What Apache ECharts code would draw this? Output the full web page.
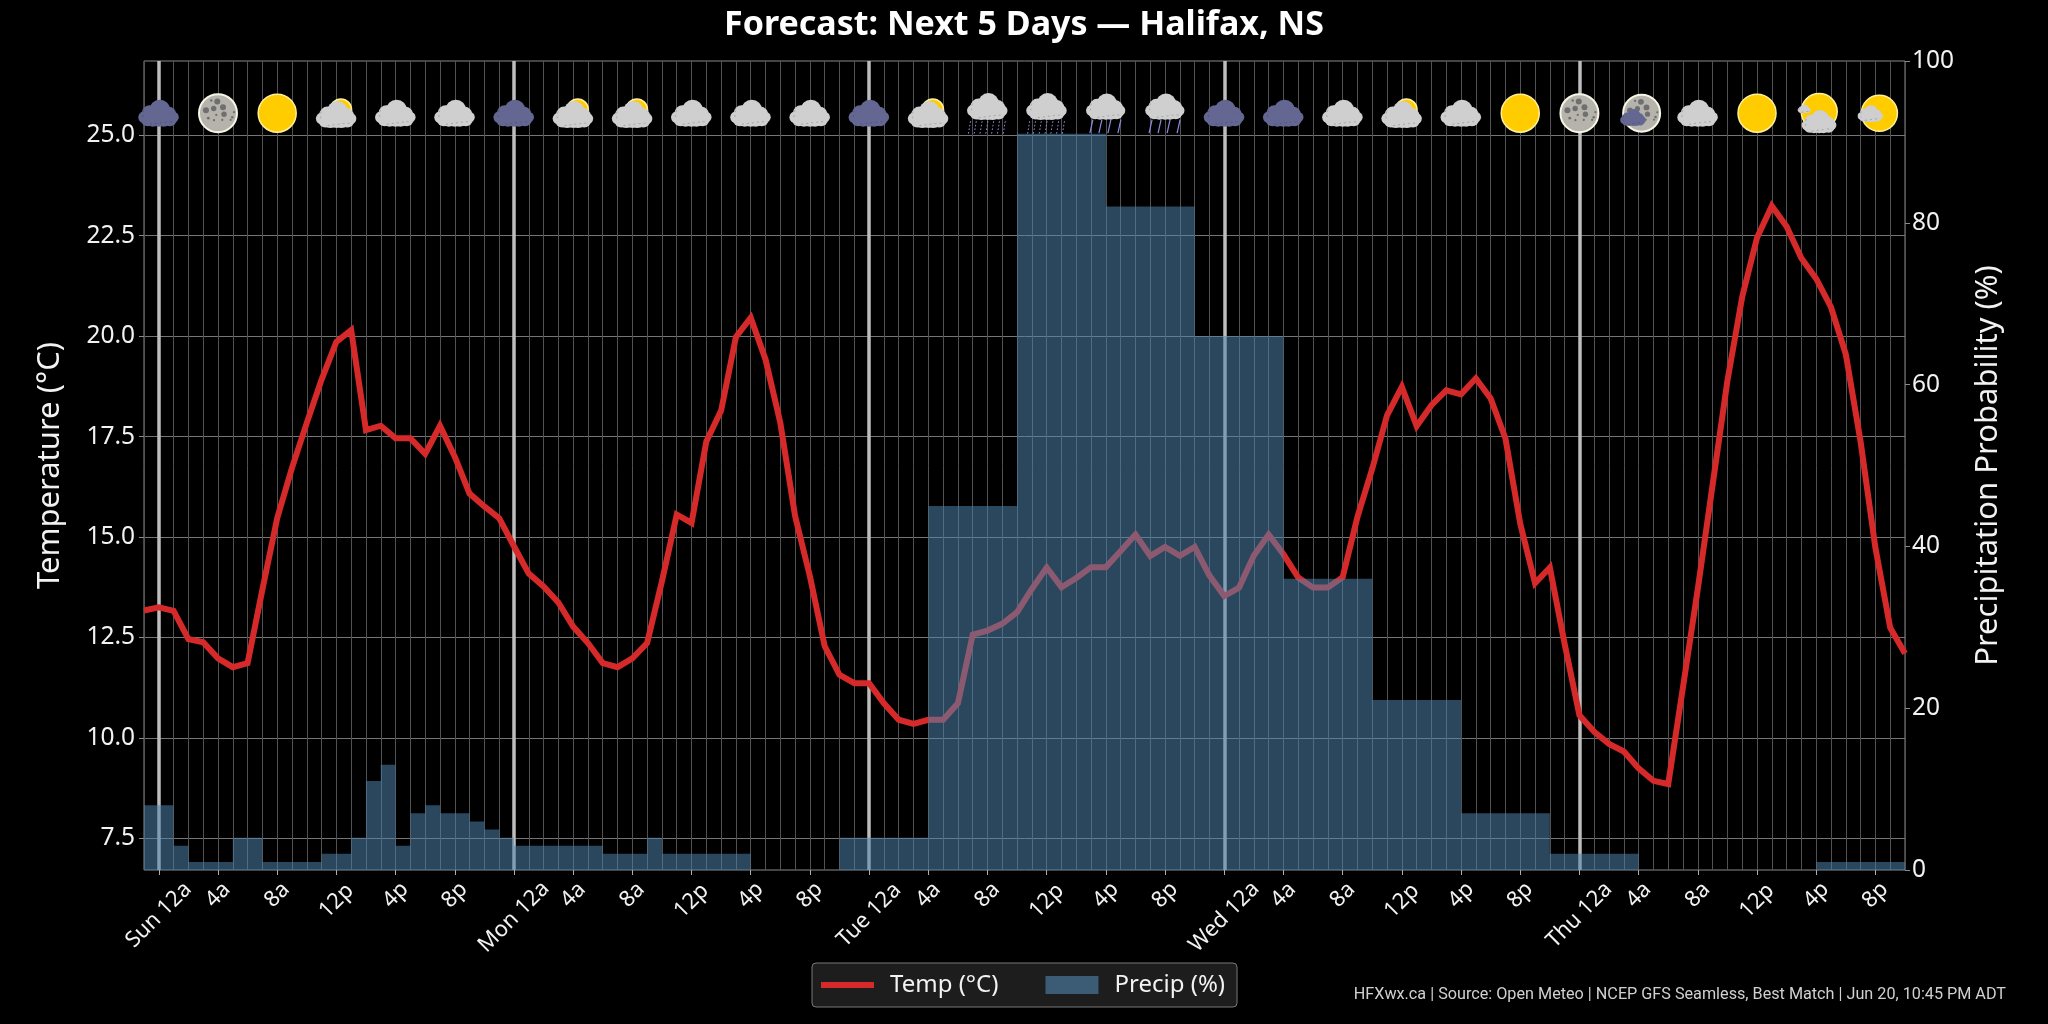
<!DOCTYPE html>
<html>
<head>
<meta charset="utf-8">
<style>html,body{margin:0;padding:0;background:#000}#chart{width:2048px;height:1024px}</style>
<script src="https://cdn.jsdelivr.net/npm/echarts@6/dist/echarts.min.js"></script>
</head>
<body>
<div id="chart"></div>
<script>
// Hourly series run from hour -1 (Sat 11 PM) to hour 118; hour 0 is Sunday midnight.
const firstHour = -1;
const tempC = [
  13.17, 13.25, 13.16, 12.46, 12.38, 11.98, 11.76, 11.86, 13.69, 15.47,
  16.72, 17.84, 18.92, 19.86, 20.15, 17.66, 17.77, 17.46, 17.46, 17.07,
  17.77, 17.00, 16.08, 15.76, 15.47, 14.77, 14.09, 13.77, 13.37, 12.77,
  12.36, 11.86, 11.76, 11.98, 12.36, 13.90, 15.56, 15.35, 17.38, 18.15,
  19.98, 20.46, 19.42, 17.84, 15.52, 14.02, 12.28, 11.57, 11.36, 11.36,
  10.86, 10.45, 10.35, 10.45, 10.45, 10.86, 12.57, 12.67, 12.84, 13.13,
  13.71, 14.24, 13.75, 13.98, 14.25, 14.25, 14.65, 15.06, 14.53, 14.75,
  14.53, 14.75, 14.04, 13.53, 13.74, 14.54, 15.06, 14.57, 13.99, 13.74,
  13.74, 14.00, 15.50, 16.70, 18.03, 18.74, 17.76, 18.28, 18.65, 18.55,
  18.95, 18.45, 17.45, 15.33, 13.85, 14.24, 12.34, 10.56, 10.15, 9.85,
  9.66, 9.24, 8.93, 8.85, 11.27, 13.71, 16.30, 18.89, 20.98, 22.45,
  23.24, 22.73, 21.94, 21.43, 20.72, 19.55, 17.37, 14.73, 12.74, 12.10
];
const precipPct = [
  8, 8, 3, 1, 1, 1, 4, 4, 1, 1,
  1, 1, 2, 2, 4, 11, 13, 3, 7, 8,
  7, 7, 6, 5, 4, 3, 3, 3, 3, 3,
  3, 2, 2, 2, 4, 2, 2, 2, 2, 2,
  2, 0, 0, 0, 0, 0, 0, 4, 4, 4,
  4, 4, 4, 45, 45, 45, 45, 45, 45, 91,
  91, 91, 91, 91, 91, 82, 82, 82, 82, 82,
  82, 66, 66, 66, 66, 66, 66, 36, 36, 36,
  36, 36, 36, 21, 21, 21, 21, 21, 21, 7,
  7, 7, 7, 7, 7, 2, 2, 2, 2, 2,
  2, 0, 0, 0, 0, 0, 0, 0, 0, 0,
  0, 0, 0, 1, 1, 1, 1, 1, 1, 1
];
const lastHour = firstHour + tempC.length - 1;

// Weather symbol shown every four hours, starting at Sunday midnight.
const iconStep = 4;
const iconKinds = [
  'nightCloud', 'moon', 'sun', 'partSun', 'cloud', 'cloud',
  'nightCloud', 'partSun', 'partSun', 'cloud', 'cloud', 'cloud',
  'nightCloud', 'partSun', 'drizzle', 'drizzle', 'rain', 'rain',
  'nightCloud', 'nightCloud', 'cloud', 'partSun', 'cloud', 'sun',
  'moon', 'moonCloud', 'cloud', 'sun', 'sunBigCloud', 'sunSmallCloud'
];

const dayHours = [0, 24, 48, 72, 96];
const dayNames = ['Sun', 'Mon', 'Tue', 'Wed', 'Thu'];
const clockNames = ['12a', '4a', '8a', '12p', '4p', '8p'];
const tempTicks = [7.5, 10, 12.5, 15, 17.5, 20, 22.5, 25];

function hourLabel(h) {
  const clock = clockNames[(h % 24) / 4];
  return h % 24 === 0 ? dayNames[h / 24] + ' ' + clock : clock;
}

// Rotated tick labels are centred on their ticks; the drop below the axis grows with text length.
const labelDrops = [
  { test: l => l.length === 2, margin: 25 },
  { test: l => l.length === 3, margin: 31 },
  { test: l => /^(Sun|Tue|Thu)/.test(l), margin: 45 },
  { test: l => /^(Mon|Wed)/.test(l), margin: 47 }
];
const labelHours = [];
for (let h = 0; h <= lastHour; h += iconStep) labelHours.push(h);

const textColor = '#f2f2f2';
const fontFamily = '"Noto Sans", sans-serif';
const axisGrey = '#8a8a8a';

const xRange = { type: 'value', min: firstHour, max: lastHour, position: 'bottom' };

const labelAxes = labelDrops.map(d => {
  const hours = labelHours.filter(h => d.test(hourLabel(h)));
  return Object.assign({}, xRange, {
    axisLine: { show: false, onZero: false },
    splitLine: { show: false },
    axisTick: { show: true, length: 5, customValues: hours, lineStyle: { color: '#b0b0b0', width: 1 } },
    axisLabel: {
      show: true, customValues: hours, rotate: 45, align: 'center', verticalAlign: 'middle',
      margin: d.margin, color: textColor, fontSize: 22, fontFamily,
      formatter: v => hourLabel(v)
    }
  });
});

const xAxes = [
  // Hourly grid lines
  Object.assign({}, xRange, {
    interval: 1,
    axisLine: { show: false, onZero: false }, axisTick: { show: false }, axisLabel: { show: false },
    splitLine: { show: true, lineStyle: { color: '#525252', width: 1 } }
  }),
  // Midnight markers
  Object.assign({}, xRange, {
    axisLine: { show: false, onZero: false },
    axisTick: { show: false, customValues: dayHours },
    axisLabel: { show: false, customValues: dayHours },
    splitLine: { show: true, showMinLine: true, lineStyle: { color: '#bdbdbd', width: 3.5 } }
  })
].concat(labelAxes);

// Weather symbols, drawn around a local origin with plain shapes.
const CLOUD_LIGHT = '#cfcfcf';
const CLOUD_NIGHT = '#646791';
const SUN_FILL = '#ffcc00';
const SUN_EDGE = '#fff09a';
const MOON_FILL = '#b5b3ac';
const MOON_EDGE = '#f6f6e6';
const CRATER = '#6f6f6f';
const RAIN_COLOR = '#8b8be0';
const ICON_ROW_TEMP = 25.55;

const cloudLobes = [
  [1, -3, 10.5], [-9, 0, 8], [10, 1, 7.5], [-14.5, 4, 6], [14.5, 4, 5.5],
  [-6, 5, 8.5], [5, 5, 8.5], [0, 4, 9.5], [-11, 6, 7], [11, 6, 7]
];
const craters = [
  [-0.7, -11.7, 3], [-6.7, -12.7, 1.2], [5, -6, 3], [-12, -3, 3], [-4.3, -4.7, 2.7],
  [6, 1, 2.7], [-1.7, 1.7, 1.1], [-9.7, 5, 1.4], [-4, 7, 1.1], [4.3, 6.7, 1.1],
  [14.3, 4, 1.3], [16, -1, 1.1], [12.7, 6.7, 1.1]
];

function disc(cx, cy, r, fill, stroke, lw) {
  return { type: 'circle', shape: { cx, cy, r }, style: { fill, stroke: stroke || null, lineWidth: lw || 0 } };
}
function cloud(cx, cy, s, fill) {
  const edge = fill === CLOUD_LIGHT ? '#9a9a9a' : '#4f5178';
  const parts = cloudLobes.map(l => disc(cx + l[0] * s, cy + l[1] * s, l[2] * s, fill));
  parts.push({
    type: 'path',
    shape: { pathData: 'M-14 -3 Q-16 1 -14 6 M-8 11 L7 9 Q12 8 15 9', x: cx - 16 * s, y: cy - 3 * s, width: 31 * s, height: 14 * s, layout: 'cover' },
    style: { fill: null, stroke: edge, lineWidth: 0.8, lineDash: [2, 3] }
  });
  return parts;
}
function sunDisc(cx, cy, r) { return disc(cx, cy, r, SUN_FILL, SUN_EDGE, 1.5); }
function moonDisc(cx, cy, r) {
  const k = r / 19;
  return [disc(cx, cy, r, MOON_FILL, MOON_EDGE, 2)].concat(
    craters.map(c => disc(cx + c[0] * k, cy + c[1] * k, c[2] * k, CRATER)));
}
function fallStreaks(slant, rows) {
  const marks = [];
  if (rows) {
    for (let r = 0; r < rows; r++) {
      for (let c = 0; c < 7; c++) {
        const x = -17 + c * 5.8 - r * 0.6, y = 8 + r * 3.6;
        marks.push({ type: 'line', shape: { x1: x, y1: y, x2: x - 0.3, y2: y + 1.6 }, style: { stroke: RAIN_COLOR, lineWidth: 1 } });
      }
    }
  } else {
    [-13, -4, 5, 15].forEach(x => marks.push({
      type: 'line', shape: { x1: x, y1: 6.5, x2: x - slant, y2: 20 }, style: { stroke: RAIN_COLOR, lineWidth: 1.2 }
    }));
  }
  return marks;
}
function iconParts(kind) {
  switch (kind) {
    case 'cloud': return cloud(0, 0, 1, CLOUD_LIGHT);
    case 'nightCloud': return cloud(0, 0, 1, CLOUD_NIGHT);
    case 'sun': return [sunDisc(0, 0, 19)];
    case 'moon': return moonDisc(0, 0, 19);
    case 'partSun': return [sunDisc(4.5, -3.5, 10.7)].concat(cloud(0, 1.4, 1, CLOUD_LIGHT));
    case 'drizzle': return fallStreaks(0, 4).concat(cloud(0, -6.6, 1, CLOUD_LIGHT));
    case 'rain': return fallStreaks(3, 0).concat(cloud(0, -6.6, 0.97, CLOUD_LIGHT));
    case 'moonCloud': return moonDisc(3, 0, 18.5).concat(cloud(-5.5, 4.2, 0.63, CLOUD_NIGHT));
    case 'sunBigCloud': return [sunDisc(3, -1.6, 18)]
      .concat(cloud(3, 8.4, 0.86, CLOUD_LIGHT))
      .concat(cloud(-12, -4.5, 0.32, CLOUD_LIGHT));
    case 'sunSmallCloud': return [sunDisc(4, 0, 18)].concat(cloud(-5, 0.3, 0.62, CLOUD_LIGHT));
  }
  return [];
}

const hours = tempC.map((_, i) => firstHour + i);
const tempData = tempC.map((v, i) => [hours[i], v]);
const precipData = precipPct.map((v, i) => [hours[i], v]);
const iconData = iconKinds.map((_, i) => [i * iconStep, ICON_ROW_TEMP]);

const chart = echarts.init(document.getElementById('chart'), null, { renderer: 'canvas' });
chart.setOption({
  animation: false,
  backgroundColor: '#000',
  title: {
    text: 'Forecast: Next 5 Days \u2014 Halifax, NS',
    left: 'center', top: 3,
    textStyle: { color: '#fff', fontSize: 34, fontWeight: 'bold', fontFamily }
  },
  grid: { left: 144, right: 143, top: 61, bottom: 154, show: true, borderColor: axisGrey, borderWidth: 1, backgroundColor: 'transparent' },
  legend: {
    left: 812, top: 963, orient: 'horizontal',
    padding: [10, 12, 10, 9], itemGap: 47, itemWidth: 53, itemHeight: 18,
    symbolKeepAspect: false,
    backgroundColor: '#1d1d1d', borderColor: '#787878', borderWidth: 1, borderRadius: 4,
    textStyle: { color: textColor, fontSize: 24, fontFamily, padding: [0, 0, 0, 11] },
    data: [
      { name: 'Temp (\u00b0C)', icon: 'path://M0 0h.1v.1h-.1zM0 100h.1v-.1h-.1zM0 34H100V66H0Z', itemStyle: { color: '#d62a2a' } },
      { name: 'Precip (%)', icon: 'rect', itemStyle: { color: '#3c5b74' } }
    ]
  },
  xAxis: xAxes,
  yAxis: [
    {
      type: 'value', position: 'left', min: 6.71, max: 26.85,
      name: 'Temperature (\u00b0C)', nameLocation: 'middle', nameGap: 78, nameRotate: 90,
      nameTextStyle: { color: textColor, fontSize: 31, fontFamily },
      axisLine: { show: false, onZero: false },
      axisTick: { show: true, length: 5, customValues: tempTicks, lineStyle: { color: axisGrey } },
      axisLabel: { show: true, customValues: tempTicks, color: textColor, fontSize: 24.5, fontFamily, margin: 9, padding: [6, 0, 0, 0], formatter: v => v.toFixed(1) },
      splitLine: { show: true, lineStyle: { color: '#767676', width: 1 } }
    },
    {
      type: 'value', position: 'right', min: 0, max: 100, interval: 20,
      name: 'Precipitation Probability (%)', nameLocation: 'middle', nameGap: 68, nameRotate: 90,
      nameTextStyle: { color: textColor, fontSize: 31, fontFamily },
      axisLine: { show: false, onZero: false },
      axisTick: { show: true, length: 5, lineStyle: { color: axisGrey } },
      axisLabel: { color: textColor, fontSize: 24.5, fontFamily, margin: 7, padding: [6, 0, 0, 0] },
      splitLine: { show: false }
    }
  ],
  series: [
    {
      name: 'Temp (\u00b0C)', type: 'line', data: tempData, xAxisIndex: 0, yAxisIndex: 0,
      symbol: 'none', smooth: false, z: 3, silent: true, color: '#d62a2a',
      lineStyle: { color: '#d62a2a', width: 6, join: 'miter', cap: 'butt' }
    },
    {
      name: 'Precip (%)', type: 'line', step: 'end', data: precipData, xAxisIndex: 0, yAxisIndex: 1,
      symbol: 'none', z: 4, silent: true, color: '#3c5b74',
      lineStyle: { width: 0, opacity: 0 },
      areaStyle: { color: 'rgba(78,132,172,0.54)', opacity: 1 }
    },
    {
      name: 'Conditions', type: 'custom', data: iconData, xAxisIndex: 0, yAxisIndex: 0,
      encode: { x: 0, y: 1 }, clip: false, z: 6, silent: true,
      renderItem: (params, api) => {
        const p = api.coord([api.value(0), api.value(1)]);
        return { type: 'group', x: p[0], y: p[1], children: iconParts(iconKinds[params.dataIndex]) };
      }
    }
  ],
  graphic: [{
    type: 'text', right: 42, top: 987, silent: true,
    style: {
      text: 'HFXwx.ca | Source: Open Meteo | NCEP GFS Seamless, Best Match | Jun 20, 10:45 PM ADT',
      fill: '#d0d0d0', font: '16.2px Roboto, sans-serif'
    }
  }]
});
</script>
</body>
</html>
